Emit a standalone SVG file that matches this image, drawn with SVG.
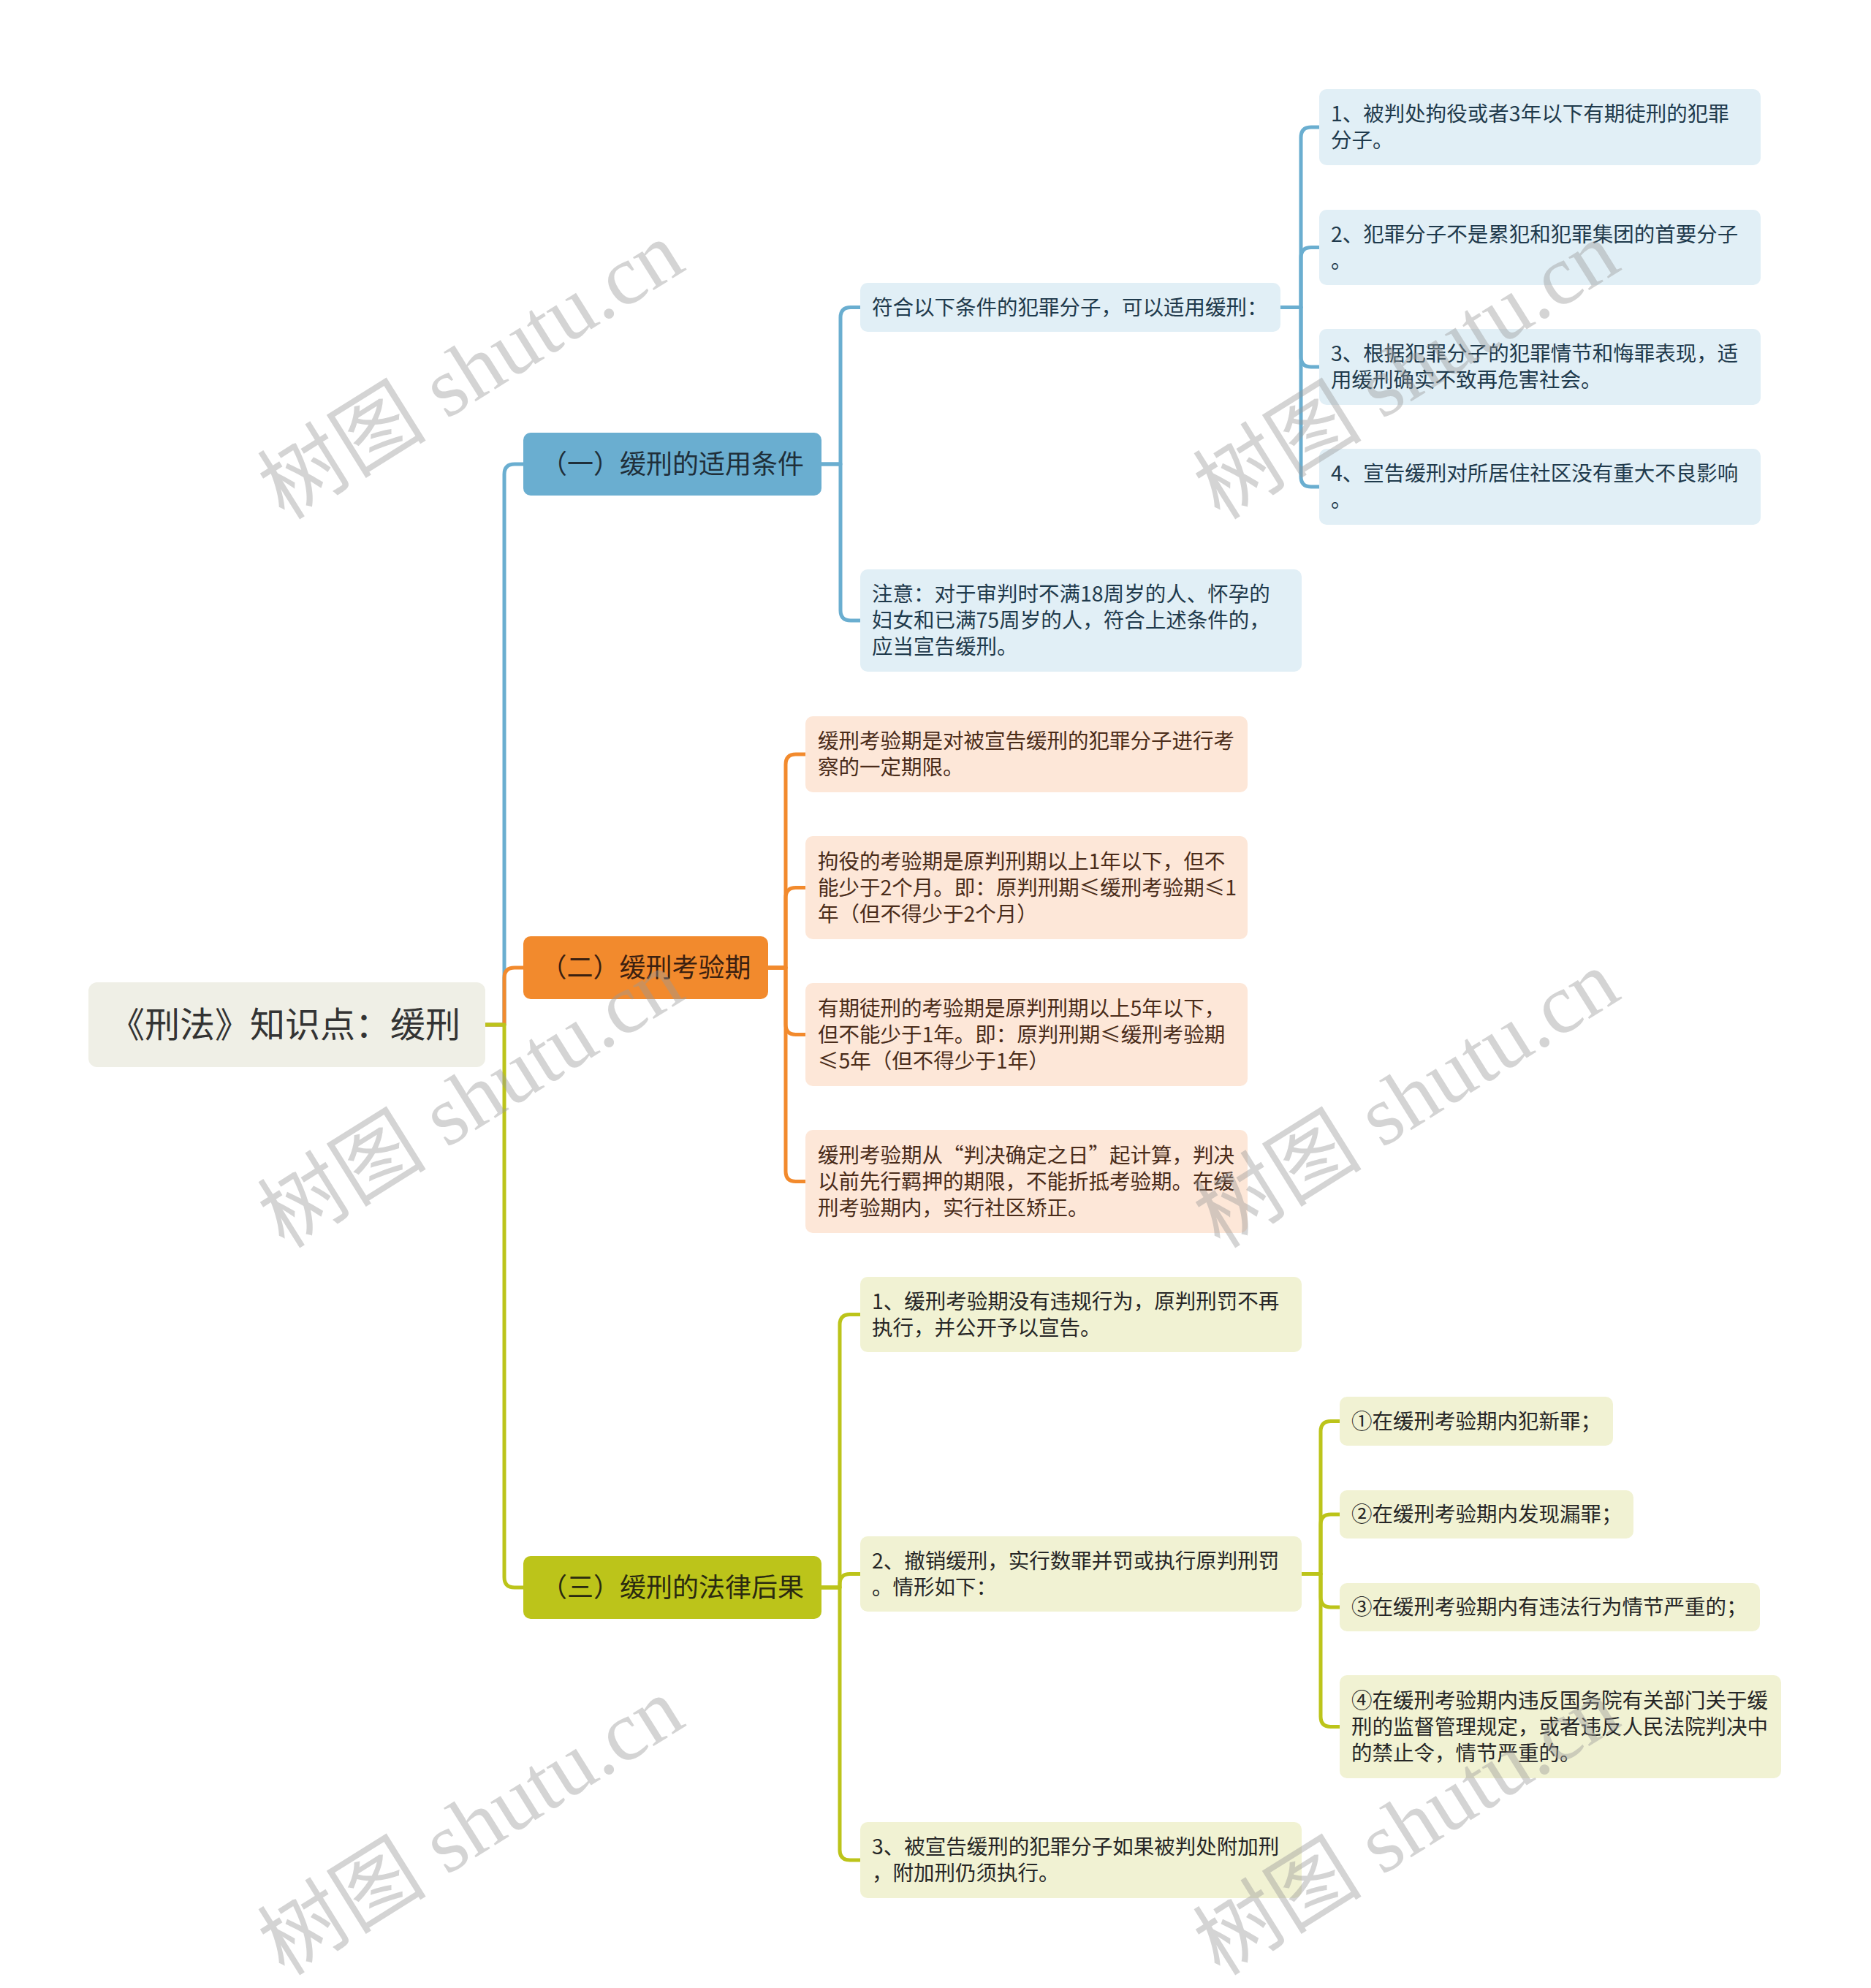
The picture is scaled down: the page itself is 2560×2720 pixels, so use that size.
<svg xmlns="http://www.w3.org/2000/svg" width="2560" height="2720" viewBox="0 0 2560 2720">
<style>
text{font-family:"Noto Sans CJK SC","Noto Sans",sans-serif}
.t{font-size:28.5px}
.tb{fill:#1f3a4c}
.to{fill:#4a2c1a}
.ty{fill:#262626}
.lb{fill:#e1eff6}
.lo{fill:#fde7d8}
.ly{fill:#f1f2d3}
.c{fill:none;stroke-width:5;stroke-linejoin:round}
.cb{stroke:#6aaed0}
.co{stroke:#f28a2d}
.cy{stroke:#bcc41a}
.wm{font-family:"Liberation Serif","Noto Sans CJK SC",serif;font-size:116px;fill:#9a9a9a;opacity:0.42}
</style>
<rect width="2560" height="2720" fill="#ffffff"/>
<g id="connectors">
<path class="c cb" d="M664,1402 H690 V649 Q690,635 704,635 H716"/>
<path class="c co" d="M664,1402 H690 V1338 Q690,1324 704,1324 H716"/>
<path class="c cy" d="M664,1402 H690 V2158 Q690,2172 704,2172 H716"/>
<path class="c cb" d="M1124,635 H1150 V434.5 Q1150,420.5 1164,420.5 H1177"/>
<path class="c cb" d="M1124,635 H1150 V835 Q1150,849 1164,849 H1177"/>
<path class="c cb" d="M1752,420.5 H1780 V188 Q1780,174 1794,174 H1805"/>
<path class="c cb" d="M1752,420.5 H1780 V352.5 Q1780,338.5 1794,338.5 H1805"/>
<path class="c cb" d="M1752,420.5 H1780 V488 Q1780,502 1794,502 H1805"/>
<path class="c cb" d="M1752,420.5 H1780 V652 Q1780,666 1794,666 H1805"/>
<path class="c co" d="M1051,1324 H1075 V1046 Q1075,1032 1089,1032 H1102"/>
<path class="c co" d="M1051,1324 H1075 V1228.5 Q1075,1214.5 1089,1214.5 H1102"/>
<path class="c co" d="M1051,1324 H1075 V1401.5 Q1075,1415.5 1089,1415.5 H1102"/>
<path class="c co" d="M1051,1324 H1075 V1602.5 Q1075,1616.5 1089,1616.5 H1102"/>
<path class="c cy" d="M1124,2172 H1149 V1812.5 Q1149,1798.5 1163,1798.5 H1177"/>
<path class="c cy" d="M1124,2172 H1149 V2167.5 Q1149,2153.5 1163,2153.5 H1177"/>
<path class="c cy" d="M1124,2172 H1149 V2531 Q1149,2545 1163,2545 H1177"/>
<path class="c cy" d="M1781,2153.5 H1807 V1958.5 Q1807,1944.5 1821,1944.5 H1833"/>
<path class="c cy" d="M1781,2153.5 H1807 V2086 Q1807,2072 1821,2072 H1833"/>
<path class="c cy" d="M1781,2153.5 H1807 V2185 Q1807,2199 1821,2199 H1833"/>
<path class="c cy" d="M1781,2153.5 H1807 V2348.5 Q1807,2362.5 1821,2362.5 H1833"/>
</g>
<g id="root">
<rect x="121" y="1344" width="543" height="116" rx="12" fill="#efefe6"/>
<text x="390" y="1419" font-size="48" text-anchor="middle" fill="#333333">《刑法》知识点：缓刑</text>
</g>
<g id="b1">
<rect x="716" y="592" width="408" height="86" rx="10" fill="#6aaed0"/>
<text x="920" y="648" font-size="36" text-anchor="middle" fill="#1f2f3a">（一）缓刑的适用条件</text>
</g>
<g id="b2">
<rect x="716" y="1281" width="335" height="86" rx="10" fill="#f28a2d"/>
<text x="883.5" y="1337" font-size="36" text-anchor="middle" fill="#3b2010">（二）缓刑考验期</text>
</g>
<g id="b3">
<rect x="716" y="2129" width="408" height="86" rx="10" fill="#bcc41a"/>
<text x="920" y="2185" font-size="36" text-anchor="middle" fill="#2a2a10">（三）缓刑的法律后果</text>
</g>
<g id="n1a">
<rect class="lb" x="1177" y="387" width="575" height="67" rx="10"/>
<text class="t tb" x="1193" y="430.5">符合以下条件的犯罪分子，可以适用缓刑：</text>
</g>
<g id="n1b">
<rect class="lb" x="1177" y="779" width="604" height="140" rx="10"/>
<text class="t tb" x="1193" y="823">注意：对于审判时不满18周岁的人、怀孕的</text>
<text class="t tb" x="1193" y="859">妇女和已满75周岁的人，符合上述条件的，</text>
<text class="t tb" x="1193" y="895">应当宣告缓刑。</text>
</g>
<g id="n1a1">
<rect class="lb" x="1805" y="122" width="604" height="104" rx="10"/>
<text class="t tb" x="1821" y="166">1、被判处拘役或者3年以下有期徒刑的犯罪</text>
<text class="t tb" x="1821" y="202">分子。</text>
</g>
<g id="n1a2">
<rect class="lb" x="1805" y="287" width="604" height="103" rx="10"/>
<text class="t tb" x="1821" y="330.5">2、犯罪分子不是累犯和犯罪集团的首要分子</text>
<text class="t tb" x="1821" y="366.5">。</text>
</g>
<g id="n1a3">
<rect class="lb" x="1805" y="450" width="604" height="104" rx="10"/>
<text class="t tb" x="1821" y="494">3、根据犯罪分子的犯罪情节和悔罪表现，适</text>
<text class="t tb" x="1821" y="530">用缓刑确实不致再危害社会。</text>
</g>
<g id="n1a4">
<rect class="lb" x="1805" y="614" width="604" height="104" rx="10"/>
<text class="t tb" x="1821" y="658">4、宣告缓刑对所居住社区没有重大不良影响</text>
<text class="t tb" x="1821" y="694">。</text>
</g>
<g id="n2a">
<rect class="lo" x="1102" y="980" width="605" height="104" rx="10"/>
<text class="t to" x="1119" y="1024">缓刑考验期是对被宣告缓刑的犯罪分子进行考</text>
<text class="t to" x="1119" y="1060">察的一定期限。</text>
</g>
<g id="n2b">
<rect class="lo" x="1102" y="1144" width="605" height="141" rx="10"/>
<text class="t to" x="1119" y="1188.5">拘役的考验期是原判刑期以上1年以下，但不</text>
<text class="t to" x="1119" y="1224.5">能少于2个月。即：原判刑期≤缓刑考验期≤1</text>
<text class="t to" x="1119" y="1260.5">年（但不得少于2个月）</text>
</g>
<g id="n2c">
<rect class="lo" x="1102" y="1345" width="605" height="141" rx="10"/>
<text class="t to" x="1119" y="1389.5">有期徒刑的考验期是原判刑期以上5年以下，</text>
<text class="t to" x="1119" y="1425.5">但不能少于1年。即：原判刑期≤缓刑考验期</text>
<text class="t to" x="1119" y="1461.5">≤5年（但不得少于1年）</text>
</g>
<g id="n2d">
<rect class="lo" x="1102" y="1546" width="605" height="141" rx="10"/>
<text class="t to" x="1119" y="1590.5">缓刑考验期从“判决确定之日”起计算，判决</text>
<text class="t to" x="1119" y="1626.5">以前先行羁押的期限，不能折抵考验期。在缓</text>
<text class="t to" x="1119" y="1662.5">刑考验期内，实行社区矫正。</text>
</g>
<g id="n3a">
<rect class="ly" x="1177" y="1747" width="604" height="103" rx="10"/>
<text class="t ty" x="1193" y="1790.5">1、缓刑考验期没有违规行为，原判刑罚不再</text>
<text class="t ty" x="1193" y="1826.5">执行，并公开予以宣告。</text>
</g>
<g id="n3b">
<rect class="ly" x="1177" y="2102" width="604" height="103" rx="10"/>
<text class="t ty" x="1193" y="2145.5">2、撤销缓刑，实行数罪并罚或执行原判刑罚</text>
<text class="t ty" x="1193" y="2181.5">。情形如下：</text>
</g>
<g id="n3c">
<rect class="ly" x="1177" y="2493" width="604" height="104" rx="10"/>
<text class="t ty" x="1193" y="2537">3、被宣告缓刑的犯罪分子如果被判处附加刑</text>
<text class="t ty" x="1193" y="2573">，附加刑仍须执行。</text>
</g>
<g id="n3b1">
<rect class="ly" x="1833" y="1911" width="374" height="67" rx="10"/>
<text class="t ty" x="1849" y="1954.5">①在缓刑考验期内犯新罪；</text>
</g>
<g id="n3b2">
<rect class="ly" x="1833" y="2039" width="402" height="66" rx="10"/>
<text class="t ty" x="1849" y="2082">②在缓刑考验期内发现漏罪；</text>
</g>
<g id="n3b3">
<rect class="ly" x="1833" y="2166" width="575" height="66" rx="10"/>
<text class="t ty" x="1849" y="2209">③在缓刑考验期内有违法行为情节严重的；</text>
</g>
<g id="n3b4">
<rect class="ly" x="1833" y="2292" width="604" height="141" rx="10"/>
<text class="t ty" x="1849" y="2336.5">④在缓刑考验期内违反国务院有关部门关于缓</text>
<text class="t ty" x="1849" y="2372.5">刑的监督管理规定，或者违反人民法院判决中</text>
<text class="t ty" x="1849" y="2408.5">的禁止令，情节严重的。</text>
</g>
<g id="watermarks">
<text class="wm" text-anchor="middle" transform="translate(645,508) rotate(-32)" y="38">树图 shutu.cn</text>
<text class="wm" text-anchor="middle" transform="translate(1925,508) rotate(-32)" y="38">树图 shutu.cn</text>
<text class="wm" text-anchor="middle" transform="translate(645,1505) rotate(-32)" y="38">树图 shutu.cn</text>
<text class="wm" text-anchor="middle" transform="translate(1925,1505) rotate(-32)" y="38">树图 shutu.cn</text>
<text class="wm" text-anchor="middle" transform="translate(645,2500) rotate(-32)" y="38">树图 shutu.cn</text>
<text class="wm" text-anchor="middle" transform="translate(1925,2500) rotate(-32)" y="38">树图 shutu.cn</text>
</g>
</svg>
